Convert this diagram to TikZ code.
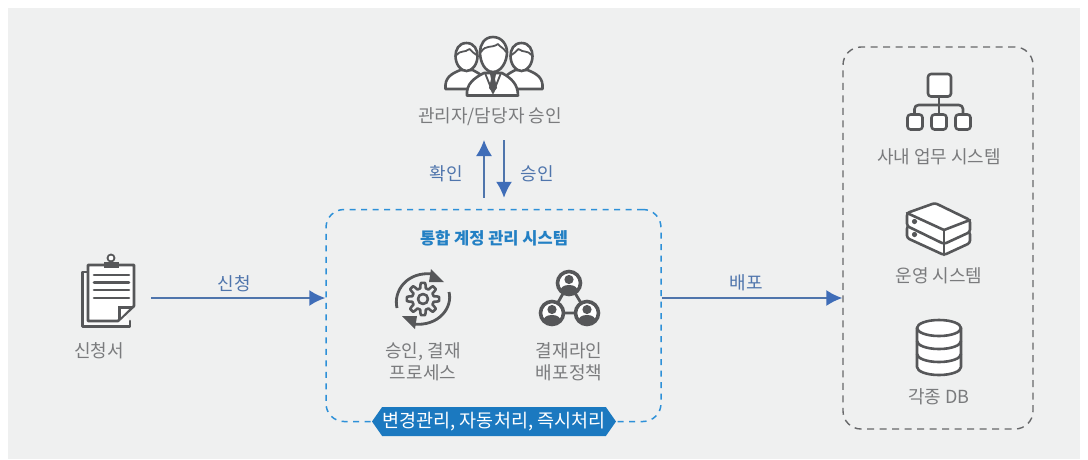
\documentclass[tikz,border=0pt]{standalone}
\usepackage{fontspec}
\setmainfont{Noto Sans CJK KR}
\usetikzlibrary{arrows.meta,shapes.geometric,shapes.misc,shapes.symbols}
\definecolor{bgc}{HTML}{EFF0F0}
\definecolor{ink}{HTML}{565759}
\definecolor{lbl}{HTML}{7A7B7D}
\definecolor{blu}{HTML}{4F75AC}
\definecolor{tip}{HTML}{3F6DB8}
\definecolor{ttl}{HTML}{2380C4}
\definecolor{ban}{HTML}{1B79C0}
\definecolor{dsh}{HTML}{2D90D8}
\tikzset{
  txt/.style={text=lbl,font=\fontsize{18}{22}\selectfont,inner sep=0pt,align=center},
  bltxt/.style={text=blu,font=\fontsize{18}{22}\selectfont,inner sep=0pt},
  flow/.style={draw=blu,line width=1.6pt,-{Latex[length=16pt,width=16pt,color=tip]}},
  ic/.style={draw=ink,line width=2.6pt,line join=round,line cap=round},
  icw/.style={ic,fill=white},
  icd/.style={fill=ink,draw=none}
}
\begin{document}
\begin{tikzpicture}[x=1pt,y=-1pt]
\useasboundingbox (0,0) rectangle (1088,459);
\fill[bgc] (8,8) rectangle (1080,459);

% containers
\node[draw=dsh,line width=1.5pt,dash pattern=on 6pt off 5.5pt,rounded corners=18pt,minimum width=335pt,minimum height=212pt,inner sep=0pt] (sysbox) at (493.5,315.5) {};
\node[draw=ink!90,line width=1.4pt,dash pattern=on 7pt off 5.5pt,rounded corners=18pt,minimum width=190pt,minimum height=382pt,inner sep=0pt] (rightbox) at (938,238) {};

% banner
\node[shape=signal,signal to=east and west,signal pointer angle=110,fill=ban,text=white,font=\fontsize{18.5}{22}\selectfont,minimum width=244pt,minimum height=29pt,inner sep=0pt] (banner) at (494,421.5) {변경관리, 자동처리, 즉시처리};

% connectors
\coordinate (reqend) at (151,298);
\coordinate (appup) at (484,140);
\coordinate (appdn) at (504,140);
\draw[flow] (reqend) -- (sysbox.west |- reqend);
\draw[flow] (sysbox.east |- reqend) -- (rightbox.west |- reqend);
\draw[flow] ([yshift=11pt]appup |- sysbox.north) -- (appup);
\draw[flow] (appdn) -- ([yshift=11pt]appdn |- sysbox.north);

% labels
\node[txt] (t1) at (490,117) {관리자/담당자 승인};
\node[bltxt] (t2) at (446,174) {확인};
\node[bltxt] (t3) at (537,174) {승인};
\node[bltxt] (t4) at (234,284) {신청};
\node[bltxt] (t5) at (746,283) {배포};
\node[txt] (t6) at (99,351) {신청서};
\node[text=ttl,font=\fontsize{16.5}{22}\selectfont\bfseries,inner sep=0pt] (t7) at (494,238) {통합 계정 관리 시스템};
\node[txt] (t8) at (423,362) {승인, 결재\\프로세스};
\node[txt] (t9) at (569,362) {결재라인\\배포정책};
\node[txt] (t10) at (939,157) {사내 업무 시스템};
\node[txt] (t11) at (939,276) {운영 시스템};
\node[txt] (t12) at (939,397) {각종 DB};

% people icon
\foreach \cx/\s in {466.5/1,521.5/-1}{
  \begin{scope}[shift={(\cx,0)},x=\s pt]
   \draw[icw] (-21,89) .. controls (-22,78) and (-16,74) .. (-6,70) -- (6,70) .. controls (14,74) and (21,78) .. (21,89) -- cycle;
   \draw[icw] (0,43) .. controls (8,43) and (11,50) .. (11,56) .. controls (11,64) and (6,71) .. (0,71) .. controls (-6,71) and (-11,64) .. (-11,56) .. controls (-11,50) and (-8,43) .. (0,43) -- cycle;
   \draw[ic,line width=1.8pt] (-10,55) .. controls (-6,50) and (-2,53) .. (3,49) .. controls (5,52) and (8,53) .. (10,55);
  \end{scope}
}
\draw[icw] (467,95.5) .. controls (466,84) and (474,78) .. (484,73) -- (502,73) .. controls (511,78) and (518,84) .. (518,95.5) -- cycle;
\draw[icw] (493,37) .. controls (502,37) and (507,45) .. (507,52) .. controls (507,62) and (501,72) .. (493,72) .. controls (485,72) and (480,62) .. (480,52) .. controls (480,45) and (484,37) .. (493,37) -- cycle;
\draw[ic,line width=1.8pt] (481,52) .. controls (486,44) and (491,49) .. (498,44) .. controls (500,47) and (504,48) .. (506,52);
\draw[ic,line width=1.8pt,fill=none] (485,73) -- (493,93) -- (501,73);
\fill[ink] (490,74) -- (496,74) -- (495,79) -- (497,88) -- (493,93) -- (489,88) -- (491,79) -- cycle;

% clipboard icon
\draw[icw,fill=white!70!bgc] (88,272) -- (82.5,272) -- (82.5,326.5) -- (130,326.5) -- (130,321);
\draw[icw] (88,265) -- (134,265) -- (134,306) -- (118,321) -- (88,321) -- cycle;
\fill[ink] (118,306) -- (134,306) -- (118,321) -- cycle;
\fill[white] (121,309) -- (129,309) -- (121,317) -- cycle;
\draw[icw,line width=1.8pt] (111,258) circle (3.5pt);
\fill[ink] (104,262) rectangle (119,268);
\foreach \yy in {275,282.5,290,298}{\draw[ic] (94,\yy) -- (129,\yy);}

% gear icon
\begin{scope}[shift={(423,299)}]
 \draw[ic] plot[domain=0:360,samples=145,smooth] ({(13.5+2.6*max(-1,min(1,2.2*cos(8*\x))))*cos(\x)},{(13.5+2.6*max(-1,min(1,2.2*cos(8*\x))))*sin(\x)}) -- cycle;
 \draw[ic] (0,0) circle (5pt);
 \draw[ic,line width=2.8pt,line cap=butt] (-26,9) .. controls (-30,-8) and (-16,-28) .. (10,-25);
 \fill[ink] (21,-17) -- (8,-30) -- (6,-17) -- cycle;
 \draw[ic,line width=2.8pt,line cap=butt] (26,-7) .. controls (30,8) and (16,28) .. (-10,25);
 \fill[ink] (-21,17) -- (-8,30) -- (-6,17) -- cycle;
\end{scope}

% network icon
\draw[ic,line width=2.8pt] (569,283) -- (552,313) -- (587,313) -- cycle;
\foreach \cx/\cy in {569/283,552/313,587/313}{
  \begin{scope}[shift={(\cx,\cy)}]
   \draw[icw,line width=3.6pt] (0,0) circle (11.5pt);
   \begin{scope}
    \clip (0,0) circle (11pt);
    \fill[ink] (0,-3.5) circle (4.6pt);
    \fill[ink] (-9.5,11) .. controls (-9.5,4) and (-5,2) .. (0,2) .. controls (5,2) and (9.5,4) .. (9.5,11) -- cycle;
   \end{scope}
  \end{scope}
}

% org chart icon
\draw[ic] (939,97) -- (939,114);
\draw[ic,rounded corners=4pt] (914.5,114) -- (914.5,105) -- (963,105) -- (963,114);
\draw[icw,rounded corners=3pt] (928,74) rectangle (951,96.5);
\foreach \xx in {907.5,931.5,955.5}{\draw[icw,rounded corners=3pt] (\xx,114.5) rectangle ++(15,15);}

% server icon
\begin{scope}[rounded corners=2.5pt]
\draw[icw] (907,226) -- (907,238) -- (944,255) -- (970,243) -- (970,232) -- cycle;
\draw[icw] (907,213) -- (935,203) -- (970,220) -- (970,232) -- (944,244) -- (907,226) -- cycle;
\end{scope}
\draw[ic] (944,244) -- (944,255);
\draw[ic] (907,213) -- (944,230) -- (970,220);
\draw[ic] (944,230) -- (944,244);
\fill[ink] (914.5,221.5) circle (2.6pt) (914.5,234.5) circle (2.6pt);

% database icon
\draw[icw] (917,328) -- (917,367) arc[start angle=180,end angle=360,x radius=22,y radius=-8] -- (961,328);
\draw[icw] (939,328) ellipse (22pt and 8pt);
\draw[ic] (917,341) arc[start angle=180,end angle=360,x radius=22,y radius=-8];
\draw[ic] (917,354) arc[start angle=180,end angle=360,x radius=22,y radius=-8];
\end{tikzpicture}
\end{document}
